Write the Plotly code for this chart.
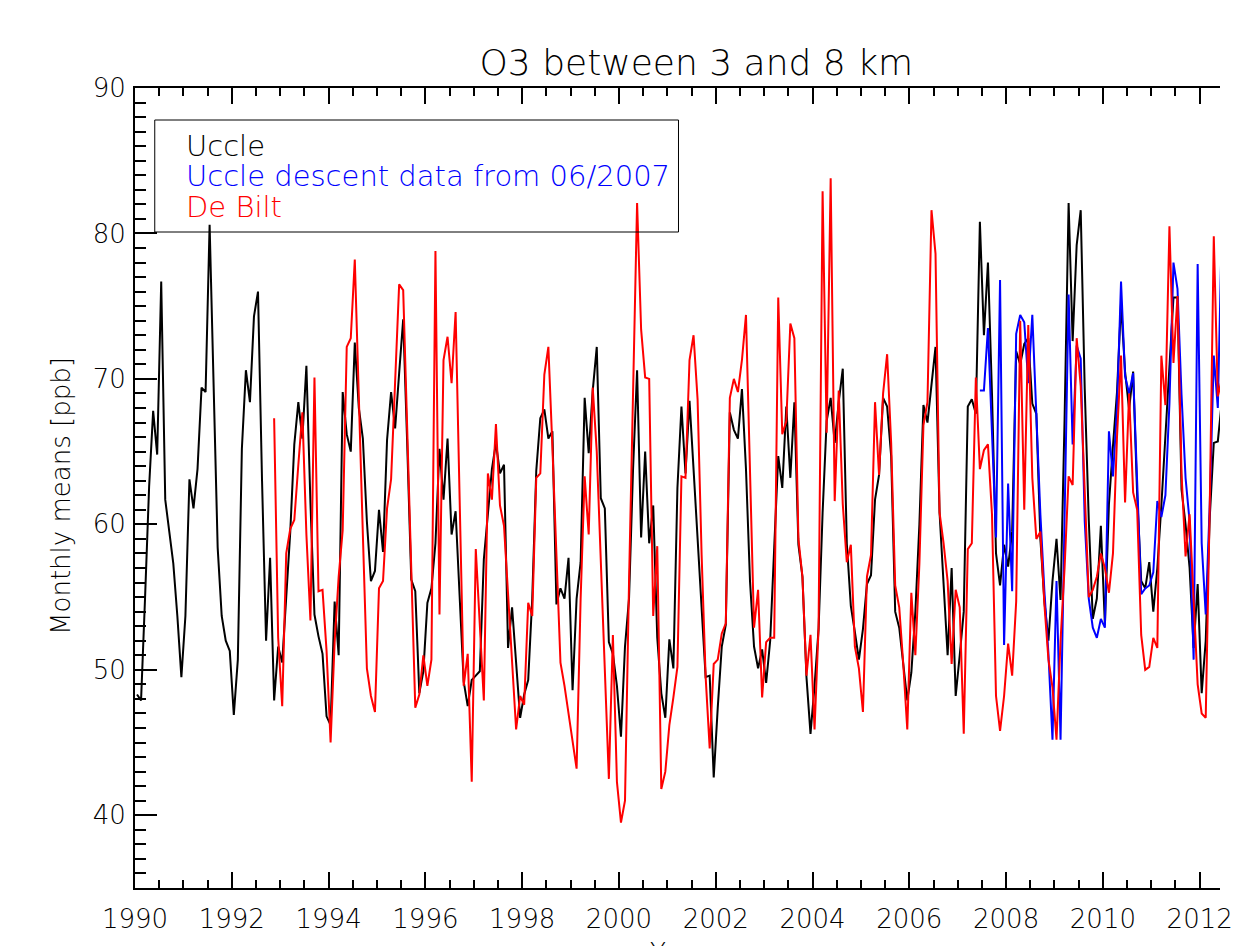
import plotly.graph_objects as go

# ---------------- data (monthly means, ppb) ----------------
UCCLE_START = (1990, 1)      # first month of the Uccle series
DEBILT_START = (1992, 11)    # first month of the De Bilt series
DESCENT_START = (2007, 6)    # first month of the Uccle descent series

uccle = [
    48.3, 47.9, 55.0, 62.6, 67.8, 64.8, 76.7, 61.7, 59.5, 57.3, 53.7, 49.5,   # 1990
    53.7, 63.1, 61.1, 63.8, 69.4, 69.1, 80.6, 69.5, 58.4, 53.7, 52.0, 51.3,   # 1991
    46.9, 50.7, 65.2, 70.6, 68.4, 74.3, 76.0, 63.0, 52.0, 57.7, 47.9, 51.6,   # 1992
    50.5, 55.0, 59.5, 65.5, 68.4, 65.9, 70.9, 61.5, 53.8, 52.3, 51.1, 46.8,   # 1993
    46.2, 54.7, 51.0, 69.1, 66.2, 65.0, 72.5, 68.0, 65.9, 60.2, 56.1, 56.8,   # 1994
    61.0, 58.1, 65.8, 69.1, 66.6, 70.4, 74.1, 65.5, 56.2, 55.4, 48.4, 49.9,   # 1995
    54.6, 55.6, 58.7, 65.2, 61.7, 65.9, 59.3, 60.9, 54.5, 49.2, 47.5, 49.3,   # 1996
    49.6, 49.9, 57.6, 60.8, 63.8, 65.6, 63.5, 64.1, 51.5, 54.3, 50.4, 46.7,   # 1997
    48.3, 49.3, 54.9, 63.7, 67.3, 67.9, 65.9, 66.4, 54.5, 55.6, 54.9, 57.7,   # 1998
    48.6, 54.9, 57.4, 68.7, 64.9, 69.2, 72.2, 61.8, 61.1, 51.9, 51.1, 48.9,   # 1999
    45.4, 51.6, 54.9, 63.8, 70.6, 59.1, 65.0, 58.7, 61.3, 52.2, 48.4, 46.7,   # 2000
    52.1, 50.1, 62.5, 68.1, 63.5, 68.5, 63.8, 59.3, 54.6, 49.5, 49.6, 42.6,   # 2001
    47.4, 51.6, 53.1, 67.7, 66.5, 65.9, 69.3, 63.8, 56.1, 51.6, 50.1, 51.4,   # 2002
    49.1, 52.0, 58.4, 64.7, 62.5, 68.1, 63.2, 68.4, 58.6, 56.4, 49.5, 45.6,   # 2003
    48.9, 52.8, 60.8, 67.1, 68.7, 65.6, 68.4, 70.7, 58.7, 54.4, 52.6, 50.7,   # 2004
    52.8, 55.9, 56.5, 61.7, 63.4, 68.7, 68.1, 64.7, 54.0, 52.9, 50.4, 47.9,   # 2005
    49.8, 54.0, 60.0, 68.2, 67.0, 69.8, 72.2, 60.8, 56.1, 51.0, 57.0, 48.2,   # 2006
    51.0, 54.0, 68.1, 68.6, 67.6, 80.8, 73.0, 78.0, 69.0, 58.0, 55.8, 58.6,   # 2007
    57.1, 59.5, 71.9, 71.0, 72.4, 72.8, 68.3, 67.6, 59.0, 54.7, 52.0, 56.1,   # 2008
    59.0, 54.8, 67.2, 82.1, 72.6, 79.2, 81.6, 69.3, 60.3, 53.5, 54.9, 59.9,   # 2009
    53.1, 61.4, 65.4, 69.1, 75.2, 70.5, 67.9, 70.5, 62.0, 56.1, 55.6, 57.4,   # 2010
    54.0, 57.0, 61.3, 66.0, 71.5, 75.6, 75.6, 62.4, 60.0, 57.0, 51.5, 55.9,   # 2011
    48.4, 52.0, 60.5, 65.6, 65.7, 68.5,                                       # 2012
]

debilt = [
    67.3, 52.2,                                                               # 1992
    47.5, 58.0, 59.7, 60.3, 64.1, 67.7, 59.3, 53.4, 70.1, 55.4, 55.5, 51.3,   # 1993
    45.0, 51.9, 56.4, 59.6, 72.2, 72.8, 78.2, 68.0, 59.3, 50.1, 48.2, 47.1,   # 1994
    55.6, 56.1, 61.1, 63.1, 69.5, 76.5, 76.1, 66.5, 56.0, 47.4, 48.3, 51.0,   # 1995
    48.9, 50.7, 78.8, 53.8, 71.3, 72.9, 69.7, 74.6, 61.7, 48.9, 51.1, 42.3,   # 1996
    58.3, 53.4, 47.9, 63.5, 61.7, 66.9, 61.3, 59.9, 55.0, 50.5, 45.9, 48.2,   # 1997
    47.6, 54.6, 53.7, 63.2, 63.5, 70.3, 72.2, 65.3, 57.9, 50.5, 48.9, 47.1,   # 1998
    45.3, 43.2, 54.9, 63.3, 59.3, 69.4, 65.0, 57.5, 50.0, 42.5, 52.4, 42.3,   # 1999
    39.5, 41.0, 56.0, 69.0, 82.1, 73.4, 70.1, 70.0, 53.7, 58.5, 41.8, 43.0,   # 2000
    46.2, 48.1, 50.2, 63.3, 63.2, 71.3, 73.0, 68.6, 57.9, 49.5, 44.6, 50.4,   # 2001
    50.7, 52.5, 53.2, 68.7, 70.0, 69.1, 71.3, 74.4, 63.8, 52.9, 55.5, 48.1,   # 2002
    51.9, 52.2, 52.2, 75.6, 66.2, 67.1, 73.8, 72.8, 59.0, 56.4, 49.6, 52.4,   # 2003
    45.9, 52.9, 82.9, 66.3, 83.8, 61.6, 69.2, 61.4, 57.4, 58.6, 51.6, 50.1,   # 2004
    47.1, 56.4, 57.9, 68.4, 63.4, 69.0, 71.7, 65.6, 55.8, 54.3, 50.4, 45.9,   # 2005
    55.3, 51.0, 57.3, 66.8, 68.4, 81.6, 78.6, 60.8, 58.7, 56.1, 50.4, 55.5,   # 2006
    54.3, 45.6, 58.3, 58.7, 70.1, 63.8, 65.1, 65.5, 60.7, 48.2, 45.8, 48.2,   # 2007
    51.8, 49.6, 54.7, 74.0, 61.0, 73.7, 63.2, 59.0, 59.5, 54.5, 50.7, 48.8,   # 2008
    45.2, 52.0, 57.0, 63.3, 62.7, 72.8, 69.5, 62.0, 55.0, 55.5, 56.4, 58.0,   # 2009
    57.0, 55.3, 58.0, 66.0, 71.6, 61.5, 69.0, 62.2, 61.0, 52.4, 50.0, 50.2,   # 2010
    52.2, 51.5, 71.6, 68.2, 80.5, 71.1, 75.7, 63.5, 57.8, 60.7, 54.8, 49.0,   # 2011
    47.0, 46.7, 61.3, 79.8, 68.8, 70.0,                                       # 2012
]

uccle_descent = [
    69.2, 69.2, 73.5, 66.3, 59.1, 76.8, 51.7,                                 # 2007
    62.8, 55.4, 73.1, 74.4, 73.9, 69.7, 74.4, 67.2, 60.7, 55.4, 51.1, 45.2,   # 2008
    56.1, 45.2, 60.4, 75.8, 65.5, 72.3, 71.4, 60.2, 54.9, 52.9, 52.2, 53.5,   # 2009
    52.9, 66.4, 63.3, 68.0, 76.7, 70.2, 69.0, 70.4, 62.9, 55.2, 55.6, 55.8,   # 2010
    56.7, 61.6, 60.5, 62.0, 68.3, 78.0, 76.2, 68.9, 63.2, 60.2, 50.7, 77.9,   # 2011
    58.7, 53.8, 61.4, 71.6, 68.0, 80.5,                                       # 2012
]

X_TICKS = list(range(1990, 2013, 2))
Y_TICKS = [40, 50, 60, 70, 80, 90]
X_RANGE = [1990, 2012.42]
Y_RANGE = [35, 90]

SERIES = [
    ("Uccle", uccle, UCCLE_START, "#000000"),
    ("Uccle descent data from 06/2007", uccle_descent, DESCENT_START, "#0000ff"),
    ("De Bilt", debilt, DEBILT_START, "#ff0000"),
]


def month_times(start, n):
    y0, m0 = start
    return [y0 + (m0 - 1 + i + 0.5) / 12.0 for i in range(n)]


# ---------------- figure ----------------
W, H = 1233, 946
PL, PR, PT, PB = 135, 0, 88, 58          # plot area 135..1233 x 88..888
PW, PH = W - PL - PR, H - PT - PB
FONT = "DejaVu Sans"
WEIGHT = 300


def px_x(px):
    return (px - PL) / PW


def px_y(py):
    return (H - PB - py) / PH


def font(size, color="black"):
    return dict(family=FONT, size=size, color=color, weight=WEIGHT)


fig = go.Figure()
for name, vals, start, color in SERIES:
    fig.add_trace(go.Scatter(
        x=month_times(start, len(vals)), y=vals, mode="lines", name=name,
        line=dict(color=color, width=2), cliponaxis=True, showlegend=False,
    ))

fig.update_layout(
    width=W, height=H,
    margin=dict(l=PL, r=PR, t=PT, b=PB, pad=0),
    paper_bgcolor="white", plot_bgcolor="white",
    font=font(26),
    showlegend=False,
    title=dict(text="O3 between 3 and 8 km", xref="paper", x=px_x(703), xanchor="center",
               yref="container", y=1 - 62 / H, yanchor="middle", font=font(36)),
)

fig.update_xaxes(
    range=X_RANGE, tickmode="array", tickvals=X_TICKS, ticktext=[str(v) for v in X_TICKS],
    ticks="inside", ticklen=16, tickwidth=2, tickcolor="black",
    showline=True, linewidth=2, linecolor="black", mirror="ticks",
    showgrid=False, zeroline=False, ticklabelstandoff=7, ticklabeloverflow="allow",
    tickfont=font(26),
    minor=dict(tickmode="linear", tick0=1990, dtick=0.5, ticks="inside", ticklen=8,
               tickwidth=2, tickcolor="black", showgrid=False),
)
fig.update_yaxes(
    range=Y_RANGE, tickmode="array", tickvals=Y_TICKS, ticktext=[str(v) for v in Y_TICKS],
    ticks="inside", ticklen=22, tickwidth=2, tickcolor="black",
    showline=True, linewidth=2, linecolor="black", mirror=False,
    showgrid=False, zeroline=False, ticklabelstandoff=2, ticklabeloverflow="allow",
    tickfont=font(26),
    minor=dict(tickmode="linear", tick0=35, dtick=1, ticks="inside", ticklen=11,
               tickwidth=2, tickcolor="black", showgrid=False),
)

# y-axis title
fig.add_annotation(text="Monthly means [ppb]", xref="paper", yref="paper",
                   x=px_x(60), y=px_y(496), xanchor="center", yanchor="middle",
                   textangle=-90, showarrow=False, font=font(26))
# x-axis title (mostly cut off at the bottom edge)
fig.add_annotation(text="Year", xref="paper", yref="paper",
                   x=px_x(684), y=px_y(936), xanchor="center", yanchor="top",
                   showarrow=False, font=font(26))

# legend box and entries
fig.add_shape(type="rect", xref="paper", yref="paper",
              x0=px_x(155), x1=px_x(685), y0=px_y(232), y1=px_y(120),
              line=dict(color="black", width=1), fillcolor="rgba(0,0,0,0)", layer="above")
for (name, _, _, color), cy in zip(SERIES, [146, 176, 207]):
    fig.add_annotation(text=name, xref="paper", yref="paper",
                       x=px_x(185), y=px_y(cy), xanchor="left", yanchor="middle",
                       showarrow=False, font=font(29, color))

fig.write_html(
    "out.html",
    config={"displayModeBar": False},
    post_script="document.body.style.margin='0';document.body.style.overflow='hidden';",
)
